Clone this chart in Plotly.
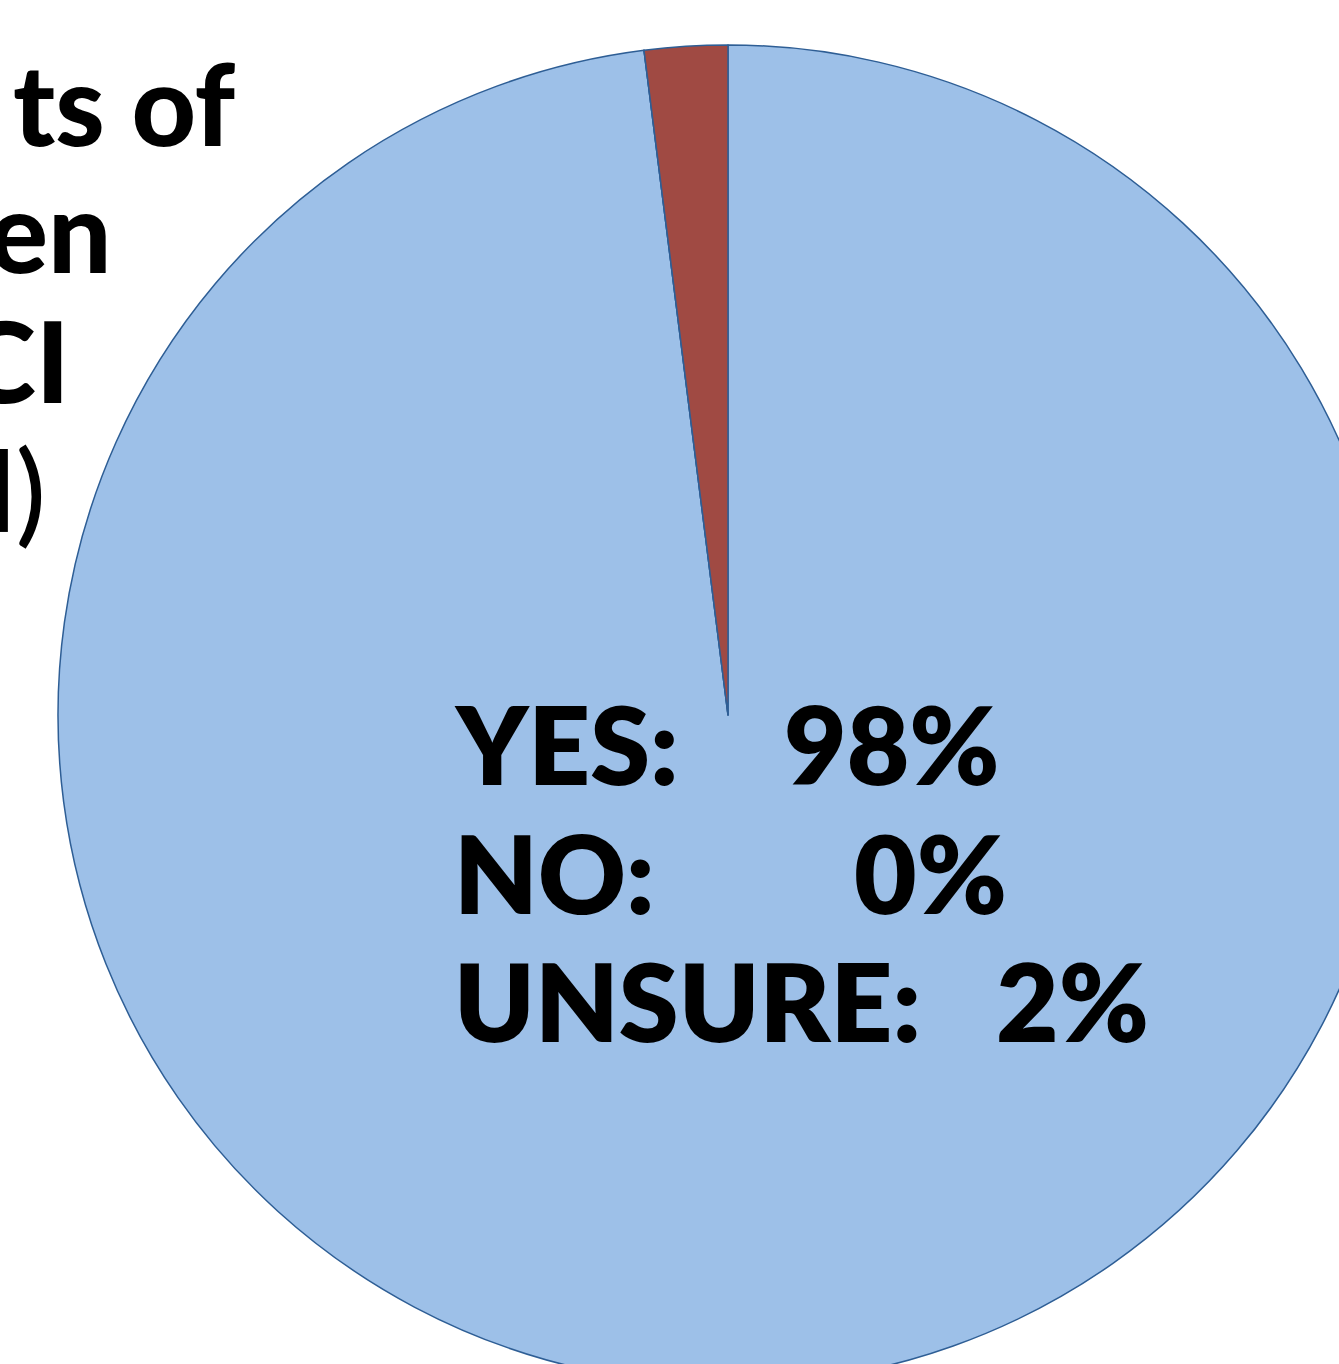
import plotly.graph_objects as go

# Data
labels = ["YES", "NO", "UNSURE"]
values = [98, 0, 2]
colors = ["#9DC0E8", "#A04A43", "#A04A43"]
label_text = ["YES:", "NO:", "UNSURE:"]
value_text = ["98%", "0%", "2%"]
title_fragments = ["ts of", "en", "CI", "l)"]

W, H = 1400, 1390

def px(x):
    return x / W

def py(y):
    return 1 - y / H

fig = go.Figure(go.Pie(
    labels=labels, values=values, sort=False, direction="clockwise", rotation=0,
    marker=dict(colors=colors, line=dict(color="#2E5E95", width=1.5)),
    textinfo="none", showlegend=False, hoverinfo="label+percent",
    domain=dict(x=[58 / W, 1398 / W], y=[1 - 1385 / H, 1 - 45 / H]),
))

annos = []
row_y = [743, 872, 1000]
val_x = [782, 852, 994]
for i in range(3):
    annos.append(dict(x=px(452), y=py(row_y[i]), xref="paper", yref="paper",
                      text=label_text[i], showarrow=False, xanchor="left", yanchor="middle",
                      font=dict(family="Lato", size=108, color="black", weight=800)))
    annos.append(dict(x=px(val_x[i]), y=py(row_y[i]), xref="paper", yref="paper",
                      text=value_text[i], showarrow=False, xanchor="left", yanchor="middle",
                      font=dict(family="Lato", size=108, color="black", weight=800)))

title_right = [238, 114, 72, 48]
title_y = [102, 230, 360, 488]
title_weight = [900, 900, 900, 500]
for i, t in enumerate(title_fragments):
    annos.append(dict(x=px(title_right[i]), y=py(title_y[i]), xref="paper", yref="paper",
                      text=t, showarrow=False, xanchor="right", yanchor="middle",
                      font=dict(family="Lato", size=112, color="black", weight=title_weight[i])))

fig.update_layout(
    width=W, height=H, margin=dict(l=0, r=0, t=0, b=0),
    paper_bgcolor="white", plot_bgcolor="white", annotations=annos,
)

fig.write_html(
    "out.html",
    post_script="document.body.style.margin='0';document.body.style.overflow='hidden';"
                "document.documentElement.style.overflow='hidden';",
)
